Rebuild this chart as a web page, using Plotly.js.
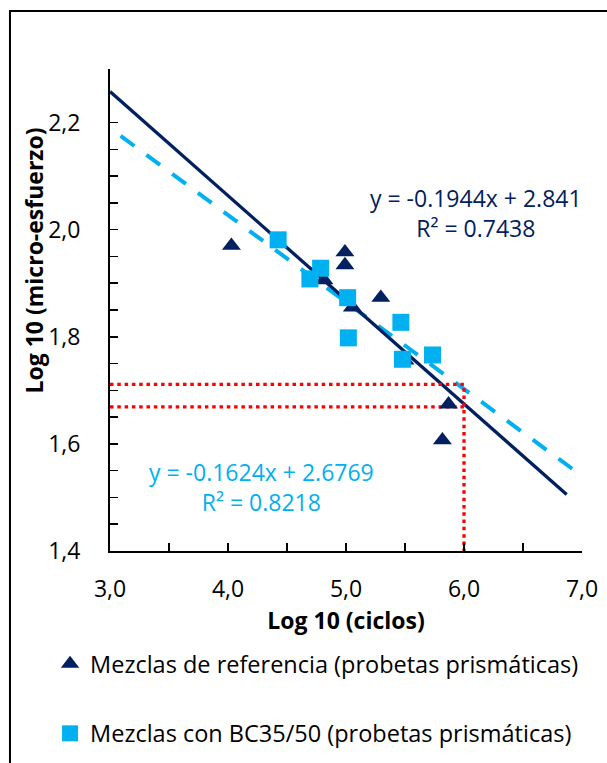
<!DOCTYPE html>
<html>
<head>
<meta charset="utf-8">
<script src="https://cdn.plot.ly/plotly-3.0.1.min.js"></script>
<style>
  html, body { margin: 0; padding: 0; background: #ffffff; }
  #chart { width: 607px; height: 763px; }
</style>
</head>
<body>
<div id="chart"></div>
<script>
// Fatigue data: log10(cycles) vs log10(micro-strain)
const refCycles   = [4.029, 4.991, 4.991, 4.813, 5.054, 5.295, 5.500, 5.869, 5.817];
const refStrain   = [1.970, 1.958, 1.934, 1.906, 1.855, 1.873, 1.756, 1.674, 1.607];
const bcCycles    = [4.425, 4.785, 4.694, 5.014, 5.465, 5.020, 5.478, 5.733];
const bcStrain    = [1.981, 1.928, 1.908, 1.873, 1.827, 1.798, 1.758, 1.766];

// Linear fits (reference mixes, BC35/50 mixes)
const fitSlope     = [-0.1944, -0.1624];
const fitIntercept = [2.841, 2.6769];
const fitR2        = [0.7438, 0.8218];
const fitFrom      = [3.0, 3.09];
const fitTo        = [6.87, 6.98];

// Guide lines at 10^6 cycles
const guideCycles = 6.0;
const guideStrain = [1.711, 1.669];
const axisFloor   = 1.4;

const seriesNames = [
  'Mezclas de referencia (probetas prismáticas)',
  'Mezclas con BC35/50 (probetas prismáticas)'
];

const xTickVals = [3, 4, 5, 6, 7];
const xMinorVals = [3.5, 4.5, 5.5, 6.5];
const yTickVals = [1.4, 1.6, 1.8, 2.0, 2.2];
const yMinorVals = [1.45, 1.5, 1.55, 1.65, 1.7, 1.75, 1.85, 1.9, 1.95, 2.05, 2.1, 2.15, 2.3];

const NAVY = '#002060';
const CYAN = '#00B0F0';
const FONT = 'Open Sans, Noto Sans, sans-serif';

function fitLine(i) {
  const xs = [fitFrom[i], fitTo[i]];
  return { x: xs, y: xs.map(v => fitSlope[i] * v + fitIntercept[i]) };
}
function eqText(i) {
  return 'y = ' + fitSlope[i] + 'x + ' + fitIntercept[i] + '<br>R² = ' + fitR2[i];
}

const fitRef = fitLine(0);
const fitBc = fitLine(1);

const traces = [
  {
    x: fitBc.x, y: fitBc.y, mode: 'lines', showlegend: false, hoverinfo: 'skip',
    line: { color: CYAN, width: 4, dash: '17px,15px' }
  },
  {
    x: fitRef.x, y: fitRef.y, mode: 'lines', showlegend: false, hoverinfo: 'skip',
    line: { color: NAVY, width: 3.3 }
  },
  {
    x: [fitFrom[0], guideCycles, guideCycles], y: [guideStrain[0], guideStrain[0], axisFloor],
    mode: 'lines', showlegend: false, hoverinfo: 'skip',
    line: { color: '#FF0000', width: 3.3, dash: '3.5px,3.8px' }
  },
  {
    x: [fitFrom[0], guideCycles], y: [guideStrain[1], guideStrain[1]],
    mode: 'lines', showlegend: false, hoverinfo: 'skip',
    line: { color: '#FF0000', width: 3.3, dash: '3.5px,3.8px' }
  },
  {
    x: refCycles, y: refStrain, mode: 'markers', name: seriesNames[0], legendgroup: 'a',
    marker: { symbol: 'triangle-up', size: 16.5, color: NAVY, line: { width: 0 } }
  },
  {
    x: bcCycles, y: bcStrain, mode: 'markers', name: seriesNames[1], legendgroup: 'b',
    marker: { symbol: 'square', size: 17, color: CYAN, line: { width: 0 } }
  }
];

const axisCommon = {
  showgrid: false, zeroline: false, showline: true,
  linecolor: '#000', linewidth: 2,
  ticks: 'inside', ticklen: 8, tickwidth: 1.5, tickcolor: '#000',
  tickformat: '.1f', tickfont: { family: FONT, size: 23, color: '#000' }
};

const layout = {
  width: 607, height: 763,
  margin: { l: 110, r: 25, t: 69, b: 212, autoexpand: false },
  paper_bgcolor: '#ffffff', plot_bgcolor: '#ffffff',
  separators: ',.',
  font: { family: FONT, size: 23, color: '#000' },
  xaxis: Object.assign({}, axisCommon, {
    range: [3, 7], tickmode: 'array', tickvals: xTickVals,
    ticklabelstandoff: 16,
    minor: { tickvals: xMinorVals, ticks: 'inside', ticklen: 8, tickwidth: 1.5, tickcolor: '#000' },
    title: { text: 'Log 10 (ciclos)', font: { family: FONT, size: 23, weight: 'bold', color: '#000' }, standoff: 2 }
  }),
  yaxis: Object.assign({}, axisCommon, {
    range: [1.4, 2.3], tickmode: 'array', tickvals: yTickVals,
    ticklabelstandoff: 23,
    minor: { tickvals: yMinorVals, ticks: 'inside', ticklen: 8, tickwidth: 1.5, tickcolor: '#000' }
  }),
  showlegend: true,
  legend: {
    x: -0.127, xanchor: 'left', y: -0.1888, yanchor: 'top',
    orientation: 'v', tracegroupgap: 36, itemwidth: 30,
    bgcolor: 'rgba(0,0,0,0)', font: { family: FONT, size: 23.5, color: '#000' }
  },
  annotations: [
    {
      text: 'Log 10 (micro-esfuerzo)', textangle: -90,
      xref: 'paper', yref: 'paper', x: -0.162, y: 0.6017,
      xanchor: 'center', yanchor: 'middle', showarrow: false,
      font: { family: FONT, size: 23, weight: 'bold', color: '#000' }
    },
    {
      text: eqText(0), xref: 'x', yref: 'y', x: 6.1, y: 2.031,
      xanchor: 'center', yanchor: 'middle', showarrow: false, align: 'center',
      font: { family: FONT, size: 23, color: NAVY }
    },
    {
      text: eqText(1), xref: 'x', yref: 'y', x: 4.288, y: 1.5195,
      xanchor: 'center', yanchor: 'middle', showarrow: false, align: 'center',
      font: { family: FONT, size: 23, color: CYAN }
    }
  ],
  shapes: [
    {
      type: 'rect', xref: 'paper', yref: 'paper',
      x0: -0.2119, x1: 1.06, y0: -0.6, y1: 1.1203,
      line: { color: '#000', width: 2 }, fillcolor: 'rgba(0,0,0,0)', layer: 'below'
    }
  ]
};

Plotly.newPlot('chart', traces, layout, { staticPlot: true, displayModeBar: false });
</script>
</body>
</html>
